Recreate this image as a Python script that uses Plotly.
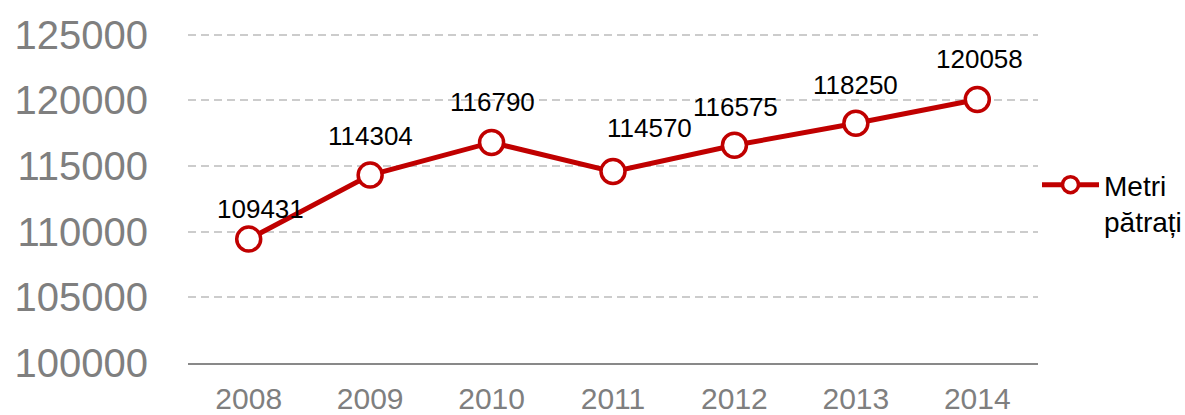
import plotly.graph_objects as go

# Surface in square metres per year
years = ["2008", "2009", "2010", "2011", "2012", "2013", "2014"]
metri_patrati = [109431, 114304, 116790, 114570, 116575, 118250, 120058]
y_ticks = [100000, 105000, 110000, 115000, 120000, 125000]

# Value label nudges (pixels) to keep labels clear of the line
label_dx = [12, 0, 1, 36, 1, 0, 2]
label_dy = [30, 39, 40, 44, 38, 38, 41]

RED = "#c00000"
GREY = "#7f7f7f"
FONT = "Liberation Sans, Arial, sans-serif"

fig = go.Figure()
fig.add_trace(go.Scatter(
    x=years,
    y=metri_patrati,
    mode="lines+markers",
    name="Metri<br>pătrați",
    line=dict(color=RED, width=5),
    marker=dict(size=24, color="white", line=dict(color=RED, width=3.5)),
    cliponaxis=False,
))

# Value labels: category axis positions are addressed by index
for i, (val, dx, dy) in enumerate(zip(metri_patrati, label_dx, label_dy)):
    fig.add_annotation(
        x=i, y=val, xref="x", yref="y", text=str(val), showarrow=False,
        xshift=dx, yshift=dy,
        font=dict(family=FONT, size=26, color="black"),
    )

fig.update_layout(
    width=1185, height=415,
    margin=dict(l=188, r=147, t=32, b=52, autoexpand=False),
    paper_bgcolor="white",
    plot_bgcolor="white",
    font=dict(family=FONT),
    showlegend=True,
    legend=dict(
        xref="container", yref="container",
        x=1037 / 1185, y=1 - 160 / 415,
        xanchor="left", yanchor="top",
        font=dict(family=FONT, size=28, color="black"),
        valign="top",
        itemwidth=57,
        bgcolor="rgba(0,0,0,0)",
        borderwidth=0,
    ),
    xaxis=dict(
        type="category",
        range=[-0.5, 6.5],
        showgrid=False,
        showline=True, linecolor="#898989", linewidth=2,
        ticks="",
        tickfont=dict(family=FONT, size=30, color=GREY),
        ticklabelstandoff=8,
        zeroline=False,
        automargin=False,
    ),
    yaxis=dict(
        range=[100000, 125200],
        tickvals=y_ticks,
        ticktext=[str(v) for v in y_ticks],
        showgrid=True, gridcolor="#cccccc", gridwidth=1.5, griddash="8px,5px",
        showline=False, zeroline=False,
        ticks="",
        tickfont=dict(family=FONT, size=40, color=GREY),
        ticklabelstandoff=39,
        automargin=False,
    ),
)

fig.write_html("out.html")
